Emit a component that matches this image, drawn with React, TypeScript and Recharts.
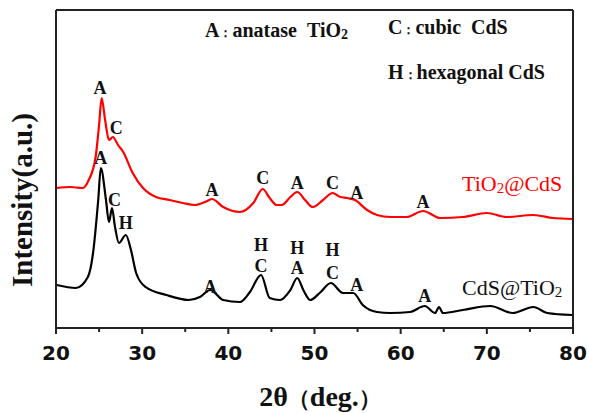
import { LineChart, Line, XAxis, YAxis, ReferenceDot } from 'recharts';

// 2θ positions (deg.) and relative intensity for each sample
const redTheta = [20.1, 21.6, 23.1, 23.8, 24.6, 25.0, 25.3, 25.7, 26.15, 26.6, 27.2, 27.8, 28.9, 30.1, 31.6, 33.2, 34.7, 36.1, 37.3, 38.1, 39.4, 41.35, 42.9, 44.0, 44.8, 45.6, 46.2, 47.2, 48.0, 48.9, 49.8, 51.0, 52.1, 53.0, 53.8, 54.7, 56.1, 57.25, 58.8, 60.7, 62.6, 64.6, 67.2, 70.0, 72.3, 75.4, 77.7, 79.9];
const redCounts = [140, 141, 140, 148, 171, 203, 230, 208, 188, 191, 183, 176, 155, 140, 131, 128, 125, 123, 126, 129, 121, 116, 125, 139, 130, 123, 123, 131, 136, 128, 121, 128, 135, 131, 130, 128, 118, 113, 111, 111, 117, 110, 111, 115, 111, 113, 110, 109];

const blackTheta = [20.1, 22.3, 23.7, 24.3, 24.9, 25.2, 25.8, 26.15, 26.5, 26.85, 27.3, 28.1, 28.7, 29.3, 30.4, 32.8, 35.4, 36.7, 37.9, 39.4, 41.35, 42.5, 43.8, 44.8, 46.0, 47.2, 48.0, 48.7, 49.5, 50.6, 51.9, 53.3, 54.5, 55.6, 57.25, 58.8, 61.1, 62.8, 64.0, 64.45, 64.9, 67.2, 70.4, 73.0, 75.4, 77.0, 79.9];
const blackCounts = [43, 40, 51, 75, 128, 160, 128, 106, 120, 101, 85, 93, 78, 55, 41, 33, 28, 31, 38, 28, 26, 36, 53, 30, 28, 38, 50, 38, 28, 35, 45, 35, 35, 23, 16, 15, 16, 22, 15, 21, 15, 18, 22, 15, 21, 15, 13];

const xTicks = [20, 25, 30, 35, 40, 45, 50, 55, 60, 65, 70, 75, 80];

// phase marks: letter, 2θ, height of the letter centre
const redMarks: [string, number, number][] = [
  ['A', 25.1, 240], ['C', 27.0, 200], ['A', 38.1, 138], ['C', 44.0, 150],
  ['A', 48.0, 145], ['C', 52.1, 145], ['A', 54.9, 135], ['A', 62.6, 126],
];
const blackMarks: [string, number, number][] = [
  ['A', 25.2, 170], ['C', 26.8, 128], ['H', 28.1, 105], ['A', 37.9, 41],
  ['H', 43.8, 83], ['C', 43.8, 62], ['H', 48.0, 80], ['A', 48.0, 60],
  ['H', 52.1, 78], ['C', 52.1, 55], ['A', 54.9, 43], ['A', 62.8, 32],
];

const redData = redTheta.map((x, i) => ({ x, y: redCounts[i] }));
const blackData = blackTheta.map((x, i) => ({ x, y: blackCounts[i] }));

const SERIF = '"Liberation Serif", "Times New Roman", serif';
const AXIS = '#222';

const XTick = (props: any) => {
  const { x, y, payload } = props;
  const major = payload.value % 10 === 0;
  return (
    <g>
      <line x1={x} x2={x} y1={y} y2={y + (major ? 6 : 4)} stroke={AXIS} strokeWidth={2} />
      {major && (
        <text x={x} y={y + 32} textAnchor="middle" fontFamily='"DejaVu Sans", sans-serif' fontWeight="bold" fontSize={20} fill="#111">
          {payload.value}
        </text>
      )}
    </g>
  );
};

export default function App() {
  return (
    <div style={{ position: 'absolute', left: 0, top: 0, width: 589, height: 413, background: '#fff' }}>
      <LineChart width={589} height={413} margin={{ top: 9, right: 15, bottom: 84, left: 55 }}>
        <XAxis
          type="number"
          dataKey="x"
          domain={[20, 80]}
          ticks={xTicks}
          interval={0}
          height={1}
          tickLine={false}
          tickSize={0}
          tickMargin={0}
          tick={<XTick />}
          axisLine={{ stroke: AXIS, strokeWidth: 2 }}
        />
        <XAxis xAxisId="top" orientation="top" type="number" domain={[20, 80]} height={1} tick={false} tickLine={false} axisLine={{ stroke: AXIS, strokeWidth: 2 }} />
        <YAxis type="number" domain={[0, 318]} width={1} tick={false} tickLine={false} axisLine={{ stroke: AXIS, strokeWidth: 2 }} allowDataOverflow />
        <YAxis yAxisId="right" orientation="right" type="number" domain={[0, 318]} width={1} tick={false} tickLine={false} axisLine={{ stroke: AXIS, strokeWidth: 2 }} />
        <Line data={redData} dataKey="y" type="monotone" stroke="#ff0000" strokeWidth={2.2} dot={false} isAnimationActive={false} />
        <Line data={blackData} dataKey="y" type="monotone" stroke="#000" strokeWidth={2.2} dot={false} isAnimationActive={false} />
        {redMarks.concat(blackMarks).map(([t, x, y], i) => (
          <ReferenceDot
            key={i}
            x={x}
            y={y}
            r={0}
            fill="none"
            stroke="none"
            label={{ value: t, position: 'center', fill: '#111', fontSize: 18, fontWeight: 'bold', fontFamily: SERIF }}
          />
        ))}
      </LineChart>
      <svg width={589} height={413} style={{ position: 'absolute', left: 0, top: 0, pointerEvents: 'none' }}>
        <g fontFamily={SERIF} fontWeight="bold" fontSize={20} fill="#111">
          <text x={205} y={37}>A<tspan fontSize={13}>：</tspan>anatase{'\u00a0\u00a0'}TiO<tspan fontSize={14} dy={2}>2</tspan></text>
          <text x={388} y={34}>C<tspan fontSize={13}>：</tspan>cubic{'\u00a0\u00a0'}CdS</text>
          <text x={388} y={79}>H<tspan fontSize={13}>：</tspan>hexagonal CdS</text>
        </g>
        <g fontFamily={SERIF} fontSize={22}>
          <text x={462} y={191} fill="#ff0000">TiO<tspan fontSize={15} dy={2}>2</tspan><tspan dy={-2}>@CdS</tspan></text>
          <text x={462} y={295} fill="#111">CdS@TiO<tspan fontSize={15} dy={2}>2</tspan></text>
        </g>
        <text x={320} y={406} textAnchor="middle" fontFamily={SERIF} fontWeight="bold" fontSize={28} fill="#111">2θ<tspan fontSize={22}>（</tspan>deg.<tspan fontSize={22}>）</tspan></text>
        <text transform="translate(32,200) rotate(-90)" textAnchor="middle" fontFamily={SERIF} fontWeight="bold" fontSize={29} fill="#111">Intensity(a.u.)</text>
      </svg>
    </div>
  );
}
